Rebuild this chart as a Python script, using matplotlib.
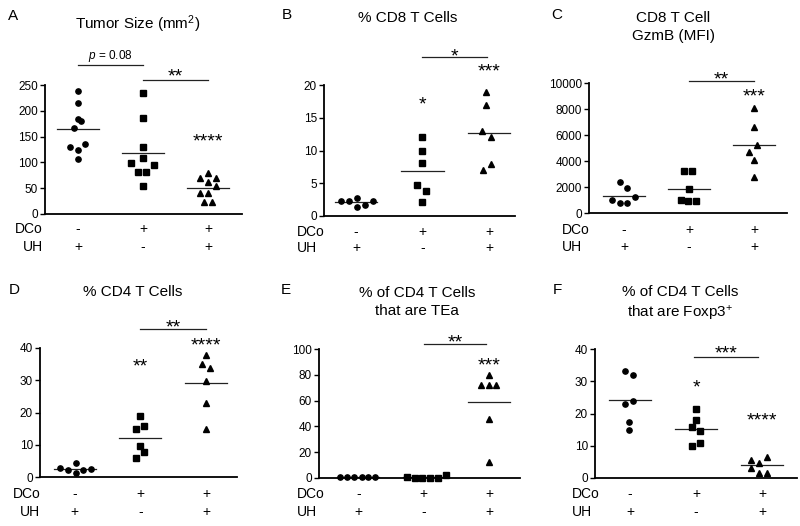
import matplotlib
matplotlib.use("Agg")
import matplotlib.pyplot as plt

plt.rcParams['font.family'] = ['Liberation Sans', 'DejaVu Sans']
plt.rcParams['mathtext.fontset'] = 'custom'
plt.rcParams['mathtext.rm'] = 'Liberation Sans'
plt.rcParams['mathtext.it'] = 'Liberation Sans:italic'

W, H = 800, 526

# treatment rows under every panel
dco = ['-', '+', '+']
uh = ['+', '-', '+']
markers = ['o', 's', '^']

# A - tumor size
a_vals = [[239, 216, 184, 181, 167, 130, 135, 125, 107],
          [234, 187, 129, 108, 98, 95, 82, 82, 54],
          [80, 70, 70, 62, 54, 40, 40, 23, 23]]
a_jit = [[0, 0, 0, 0.05, -0.07, -0.13, 0.11, 0, 0],
         [0, 0, 0, 0, -0.19, 0.17, -0.08, 0.05, 0],
         [0, -0.12, 0.12, 0, 0.12, -0.12, 0, -0.07, 0.06]]
a_lines = [165, 119, 51]
a_ticks = [0, 50, 100, 150, 200, 250]

# B - % CD8 T cells
b_vals = [[2.3, 2.3, 2.8, 1.4, 1.7, 2.3],
          [12.0, 10.0, 8.1, 4.8, 3.8, 2.2],
          [18.9, 16.9, 13.0, 12.0, 8.0, 7.0]]
b_jit = [[-0.22, -0.1, 0.01, 0.01, 0.13, 0.25],
         [0, 0, 0, -0.08, 0.05, 0],
         [-0.05, -0.04, -0.1, 0.03, 0.03, -0.09]]
b_lines = [2.15, 6.8, 12.7]
b_ticks = [0, 5, 10, 15, 20]

# C - CD8 GzmB MFI
c_vals = [[2360, 1946, 1000, 746, 746, 1254],
          [3230, 3230, 1820, 1026, 897, 949],
          [8100, 6640, 5230, 4690, 4077, 2770]]
c_jit = [[-0.07, 0.05, -0.19, -0.07, 0.05, 0.17],
         [-0.07, 0.05, 0, -0.13, -0.01, 0.11],
         [0, 0, 0.05, -0.07, 0, 0]]
c_lines = [1300, 1870, 5250]
c_ticks = [0, 2000, 4000, 6000, 8000, 10000]

# D - % CD4 T cells
d_vals = [[2.9, 2.2, 4.2, 1.1, 2.2, 2.5],
          [18.8, 15.8, 14.8, 9.5, 7.9, 5.8],
          [37.9, 34.9, 33.8, 29.7, 22.8, 14.8]]
d_jit = [[-0.23, -0.1, 0.02, 0.02, 0.13, 0.24],
         [0, 0.05, -0.07, 0, 0.05, -0.07],
         [0, -0.06, 0.06, 0, 0, 0]]
d_lines = [2.5, 12.1, 29.1]
d_ticks = [0, 10, 20, 30, 40]

# E - % TEa of CD4
e_vals = [[0.7, 0.7, 0.7, 0.7, 0.7, 0.7],
          [0.8, 0.2, 0.2, 0.2, 0.2, 2.0],
          [80, 71.8, 71.8, 71.8, 45.7, 12.4]]
e_jit = [[-0.28, -0.17, -0.06, 0.05, 0.15, 0.26],
         [-0.25, -0.14, -0.02, 0.09, 0.22, 0.34],
         [0, -0.12, 0, 0.11, 0, 0]]
e_lines = [0.7, 0.6, 59.2]
e_ticks = [0, 20, 40, 60, 80, 100]

# F - % Foxp3+ of CD4
f_vals = [[33.1, 32.0, 24.0, 22.9, 17.4, 14.9],
          [21.5, 17.9, 15.8, 14.7, 10.9, 9.8],
          [6.6, 5.6, 4.6, 3.0, 1.5, 1.6]]
f_jit = [[-0.07, 0.05, 0.05, -0.07, -0.01, -0.01],
         [0, 0, -0.06, 0.06, 0.06, -0.06],
         [0.08, -0.16, -0.04, -0.16, -0.04, 0.08]]
f_lines = [24.1, 15.1, 3.9]
f_ticks = [0, 10, 20, 30, 40]

panels = [
    dict(letter='A', title='Tumor Size (mm$^2$)', vals=a_vals, jit=a_jit, lines=a_lines, ticks=a_ticks,
         rect=(45, 85, 242, 214), xlim=(-0.51, 2.52), title_xy=(138, 24), letter_xy=(13, 16),
         stars=[(2, 152, '****')],
         brackets=[(0, 1, 288, 306, '$\\it{p}$ = 0.08'), (1, 2, 260, 279, '**')],
         lab_x=(15, 23), rows=(229, 247)),
    dict(letter='B', title='% CD8 T Cells', vals=b_vals, jit=b_jit, lines=b_lines, ticks=b_ticks,
         rect=(324, 85, 515, 216), xlim=(-0.48, 2.39), title_xy=(408, 18), letter_xy=(287, 15),
         stars=[(1, 17.9, '*'), (2, 23.0, '***')],
         brackets=[(1, 1.97, 24.2, 25.3, '*')],
         lab_x=(297, 297), rows=(232, 248)),
    dict(letter='C', title='CD8 T Cell\nGzmB (MFI)', vals=c_vals, jit=c_jit, lines=c_lines, ticks=c_ticks,
         rect=(589, 83, 787, 213), xlim=(-0.54, 2.51), title_xy=(673, 27), letter_xy=(557, 15),
         stars=[(2, 9408, '***')],
         brackets=[(1, 2, 10177, 10746, '**')],
         lab_x=(562, 562), rows=(230, 247)),
    dict(letter='D', title='% CD4 T Cells', vals=d_vals, jit=d_jit, lines=d_lines, ticks=d_ticks,
         rect=(40, 348, 237, 477), xlim=(-0.53, 2.47), title_xy=(133, 292), letter_xy=(14, 290),
         stars=[(1, 36.1, '**'), (2, 42.8, '****')],
         brackets=[(1, 2, 45.9, 48.4, '**')],
         lab_x=(13, 20), rows=(494, 512)),
    dict(letter='E', title='% of CD4 T Cells\nthat are TEa', vals=e_vals, jit=e_jit, lines=e_lines, ticks=e_ticks,
         rect=(319, 349, 520, 478), xlim=(-0.6, 2.47), title_xy=(417, 302), letter_xy=(286, 290),
         stars=[(2, 92.2, '***')],
         brackets=[(1, 1.95, 103.9, 109.5, '**')],
         lab_x=(297, 297), rows=(494, 512)),
    dict(letter='F', title='% of CD4 T Cells\nthat are Foxp3$^{+}$', vals=f_vals, jit=f_jit, lines=f_lines, ticks=f_ticks,
         rect=(595, 349, 797, 478), xlim=(-0.53, 2.53), title_xy=(680, 304), letter_xy=(557, 290),
         stars=[(1, 29.9, '*'), (2, 19.8, '****')],
         brackets=[(0.97, 1.94, 37.6, 40.4, '***')],
         lab_x=(572, 572), rows=(494, 512)),
]


def fx(x):
    return x / W


def fy(y):
    return 1 - y / H


def star_text(ax, x, y, s):
    # asterisks sit high in the em box, so anchor on the baseline and drop it
    if '*' in s:
        ax.annotate(s, (x, y), xytext=(0, -8), textcoords='offset points',
                    ha='center', va='baseline', fontsize=14, annotation_clip=False)
    else:
        ax.annotate(s, (x, y), ha='center', va='center', fontsize=8.5, annotation_clip=False)


fig = plt.figure(figsize=(W / 100, H / 100), dpi=100)

for p in panels:
    l, t, r, b = p['rect']
    ax = fig.add_axes([fx(l), fy(b), (r - l) / W, (b - t) / H])
    for i, (vals, jit) in enumerate(zip(p['vals'], p['jit'])):
        xs = [i + j for j in jit]
        ax.plot(xs, vals, ls='none', marker=markers[i], color='black',
                ms=4.0 if markers[i] == '^' else 3.8, clip_on=False, zorder=3)
        ax.plot([i - 0.32, i + 0.32], [p['lines'][i]] * 2, color='#222222', lw=0.9, zorder=2)
    for x, y, s in p['stars']:
        star_text(ax, x, y, s)
    for x0, x1, yb, yt, s in p['brackets']:
        ax.plot([x0, x1], [yb, yb], color='#222222', lw=0.9, clip_on=False)
        star_text(ax, (x0 + x1) / 2, yt, s)

    ax.set_xlim(*p['xlim'])
    ax.set_ylim(p['ticks'][0], p['ticks'][-1])
    ax.set_yticks(p['ticks'])
    ax.spines['top'].set_visible(False)
    ax.spines['right'].set_visible(False)
    ax.spines['left'].set_linewidth(1.3)
    ax.spines['bottom'].set_linewidth(1.3)
    ax.tick_params(axis='x', bottom=False, labelbottom=False)
    ax.tick_params(axis='y', direction='out', length=3.5, width=1, labelsize=8.5, pad=1.5)

    # treatment table below the axis
    for i in range(3):
        ax.annotate(dco[i], (i, 0), xycoords=('data', 'axes fraction'), xytext=(0, -(p['rows'][0] - b) * 0.72),
                    textcoords='offset points', ha='center', va='center', fontsize=10, annotation_clip=False)
        ax.annotate(uh[i], (i, 0), xycoords=('data', 'axes fraction'), xytext=(0, -(p['rows'][1] - b) * 0.72),
                    textcoords='offset points', ha='center', va='center', fontsize=10, annotation_clip=False)
    fig.text(fx(p['lab_x'][0]), fy(p['rows'][0]), 'DCo', ha='left', va='center', fontsize=10)
    fig.text(fx(p['lab_x'][1]), fy(p['rows'][1]), 'UH', ha='left', va='center', fontsize=10)

    fig.text(fx(p['title_xy'][0]), fy(p['title_xy'][1]), p['title'], ha='center', va='center',
             fontsize=11, linespacing=1.35)
    fig.text(fx(p['letter_xy'][0]), fy(p['letter_xy'][1]), p['letter'], ha='center', va='center', fontsize=11)

fig.savefig('out.png', dpi=100)
